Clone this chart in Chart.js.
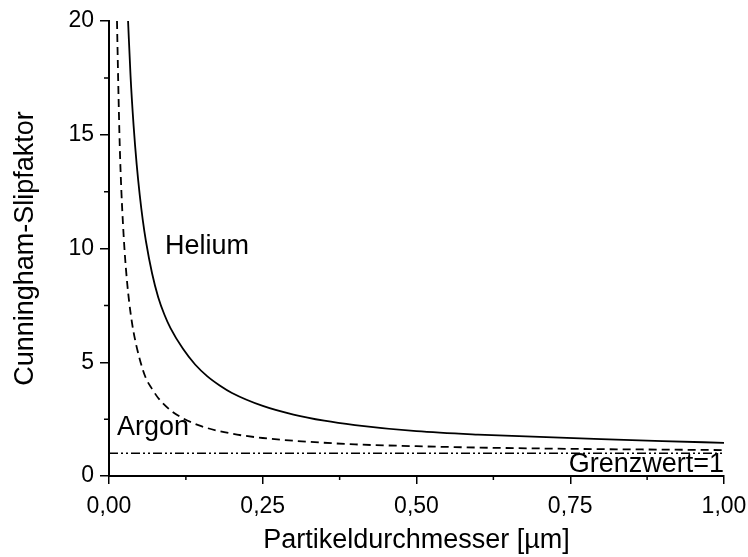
<!DOCTYPE html>
<html>
<head>
<meta charset="utf-8">
<script src="https://cdn.jsdelivr.net/npm/chart.js@4"></script>
<style>
  html, body { margin: 0; padding: 0; background: #fff; }
  #wrap { width: 748px; height: 557px; }
</style>
</head>
<body>
<div id="wrap"><canvas id="slipChart"></canvas></div>
<script>
// Partikeldurchmesser in µm and Cunningham-Slipfaktor per gas
const heliumD = [0.031, 0.035, 0.040, 0.045, 0.050, 0.055, 0.060, 0.070, 0.080, 0.090, 0.100, 0.120, 0.140, 0.160, 0.180, 0.200, 0.250, 0.300, 0.350, 0.400, 0.500, 0.600, 0.700, 0.800, 0.900, 1.000];
const heliumC = [20.0, 17.6, 15.4, 13.7, 12.35, 11.24, 10.33, 8.91, 7.86, 7.1, 6.5, 5.6, 4.9, 4.38, 3.98, 3.65, 3.08, 2.70, 2.43, 2.24, 1.97, 1.82, 1.72, 1.62, 1.53, 1.46];

const argonD = [0.013, 0.015, 0.0175, 0.020, 0.025, 0.030, 0.035, 0.040, 0.050, 0.060, 0.070, 0.080, 0.100, 0.120, 0.150, 0.200, 0.250, 0.300, 0.400, 0.500, 0.600, 0.700, 0.800, 0.900, 1.000];
const argonC = [20.0, 17.3, 14.5, 12.6, 10.05, 8.36, 7.18, 6.32, 5.13, 4.3, 3.83, 3.43, 2.89, 2.54, 2.19, 1.86, 1.67, 1.55, 1.39, 1.31, 1.25, 1.21, 1.18, 1.16, 1.14];

const limitD = [0, 1];
const limitC = [1, 1];

const xTicks = [0, 0.25, 0.5, 0.75, 1.0];
const yTicks = [0, 5, 10, 15, 20];

// curve labels, placed in data units
const curveLabels = [
  { text: 'Helium', x: 0.091, y: 10.1, align: 'left' },
  { text: 'Argon', x: 0.013, y: 2.15, align: 'left' },
  { text: 'Grenzwert=1', x: 1.0, y: 0.52, align: 'right' }
];

const FONT = '"Liberation Sans", Arial, sans-serif';

function toPoints(xs, ys) {
  return xs.map((x, i) => ({ x: x, y: ys[i] }));
}

// minor ticks halfway between the major ones, plus the text labels
const extras = {
  id: 'extras',
  afterDraw(chart) {
    const ctx = chart.ctx;
    const xs = chart.scales.x;
    const ys = chart.scales.y;
    ctx.save();
    ctx.strokeStyle = '#000';
    ctx.lineWidth = 1.5;
    ctx.beginPath();
    for (let i = 0; i < xTicks.length - 1; i++) {
      const px = xs.getPixelForValue((xTicks[i] + xTicks[i + 1]) / 2);
      ctx.moveTo(px, ys.bottom);
      ctx.lineTo(px, ys.bottom + 4);
    }
    for (let i = 0; i < yTicks.length - 1; i++) {
      const py = ys.getPixelForValue((yTicks[i] + yTicks[i + 1]) / 2);
      ctx.moveTo(xs.left, py);
      ctx.lineTo(xs.left - 5, py);
    }
    ctx.stroke();

    ctx.fillStyle = '#000';
    ctx.font = '27px ' + FONT;
    ctx.textBaseline = 'middle';
    curveLabels.forEach(l => {
      ctx.textAlign = l.align;
      ctx.fillText(l.text, xs.getPixelForValue(l.x), ys.getPixelForValue(l.y));
    });
    ctx.restore();
  }
};

new Chart(document.getElementById('slipChart'), {
  type: 'line',
  data: {
    datasets: [
      {
        label: 'Helium',
        data: toPoints(heliumD, heliumC),
        borderColor: '#000',
        borderWidth: 1.8,
        pointRadius: 0,
        cubicInterpolationMode: 'monotone'
      },
      {
        label: 'Argon',
        data: toPoints(argonD, argonC),
        borderColor: '#000',
        borderWidth: 1.8,
        borderDash: [8, 5],
        pointRadius: 0,
        cubicInterpolationMode: 'monotone'
      },
      {
        label: 'Grenzwert',
        data: toPoints(limitD, limitC),
        borderColor: '#000',
        borderWidth: 1.5,
        borderDash: [9, 3, 2, 3, 2, 3],
        pointRadius: 0
      }
    ]
  },
  options: {
    responsive: true,
    maintainAspectRatio: false,
    animation: false,
    layout: { padding: { top: 21, right: 0, left: 0, bottom: 0 } },
    plugins: {
      legend: { display: false },
      tooltip: { enabled: false }
    },
    scales: {
      x: {
        type: 'linear',
        min: 0,
        max: 1,
        afterBuildTicks: axis => { axis.ticks = xTicks.map(v => ({ value: v })); },
        afterFit: axis => { axis.height = 81; axis.paddingRight = 24; axis.paddingLeft = 0; },
        border: { display: true, color: '#000', width: 2 },
        grid: { drawOnChartArea: false, drawTicks: true, tickLength: 8, color: '#000', lineWidth: 1.5 },
        ticks: {
          color: '#000',
          padding: 9,
          maxRotation: 0,
          font: { family: FONT, size: 23 },
          callback: v => v.toFixed(2).replace('.', ',')
        },
        title: {
          display: true,
          text: 'Partikeldurchmesser [µm]',
          color: '#000',
          font: { family: FONT, size: 27 },
          padding: { top: 0, bottom: 0 }
        }
      },
      y: {
        type: 'linear',
        min: 0,
        max: 20,
        afterBuildTicks: axis => { axis.ticks = yTicks.map(v => ({ value: v })); },
        afterFit: axis => { axis.width = 109; },
        border: { display: true, color: '#000', width: 2 },
        grid: { drawOnChartArea: false, drawTicks: true, tickLength: 9, color: '#000', lineWidth: 1.5 },
        ticks: {
          color: '#000',
          padding: 6,
          font: { family: FONT, size: 23 }
        },
        title: {
          display: true,
          text: 'Cunningham-Slipfaktor',
          color: '#000',
          font: { family: FONT, size: 27 },
          padding: { top: 9, bottom: 0 }
        }
      }
    }
  },
  plugins: [extras]
});
</script>
</body>
</html>
